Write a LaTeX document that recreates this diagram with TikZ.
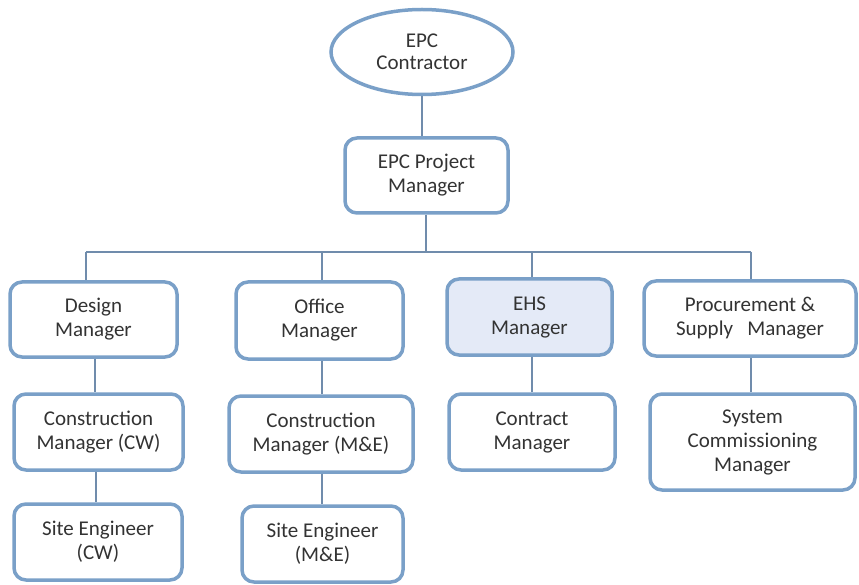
\documentclass[tikz,border=0pt]{standalone}
\usepackage{fontspec}
\setmainfont{Carlito}
\usetikzlibrary{shapes.geometric}
\definecolor{boxline}{RGB}{122,160,200}
\definecolor{conn}{RGB}{112,140,172}
\definecolor{ehsfill}{RGB}{228,234,247}
\tikzset{
  x=1pt,y=-1pt,
  box/.style={draw=boxline, line width=3.5pt, rounded corners=12pt, fill=white,
    align=center, inner sep=0pt, font=\fontsize{21}{24}\selectfont, text=black!80},
  oval/.style={ellipse, draw=boxline, line width=3.5pt, fill=white, inner sep=0pt,
    align=center, font=\fontsize{21}{22}\selectfont, text=black!80},
  conline/.style={draw=conn, line width=1.4pt}
}
\begin{document}
\begin{tikzpicture}
\useasboundingbox (0,0) rectangle (859,585);
% bus and drop points
\coordinate (bus) at (426,252);
\coordinate (dD) at (86,252);
\coordinate (dO) at (322,252);
\coordinate (dE) at (532,252);
\coordinate (dP) at (751,252);
% nodes
\node[oval, minimum width=182pt, minimum height=85pt] (epc) at (422,52) {EPC\\Contractor};
\node[box, minimum width=163pt, minimum height=75pt] (pm) at (426.5,175.5) {EPC Project\\Manager};
\node[box, minimum width=167pt, minimum height=75pt] (dm) at (93.5,319.5) {Design\\Manager};
\node[box, minimum width=167pt, minimum height=77pt] (om) at (319.5,320.5) {Office\\Manager};
\node[box, minimum width=165pt, minimum height=76pt, fill=ehsfill] (em) at (529.5,317) {EHS\\Manager};
\node[box, minimum width=212pt, minimum height=75pt] (pr) at (750,318.5) {Procurement \&\\Supply\ \ \ Manager};
\node[box, minimum width=169pt, minimum height=76pt] (ccw) at (98.5,432) {Construction\\Manager (CW)};
\node[box, minimum width=184pt, minimum height=76pt] (cme) at (321,434) {Construction\\Manager (M\&E)};
\node[box, minimum width=166pt, minimum height=76pt] (cm) at (532,432) {Contract\\Manager};
\node[box, minimum width=205pt, minimum height=96pt] (sc) at (752.5,442) {System\\Commissioning\\Manager};
\node[box, minimum width=168pt, minimum height=76pt] (secw) at (98,542) {Site Engineer\\(CW)};
\node[box, minimum width=161pt, minimum height=76pt] (seme) at (322.5,544) {Site Engineer\\(M\&E)};
% connectors
\draw[conline] (epc.south) -- (epc.south |- pm.north);
\draw[conline] (pm.south -| bus) -- (bus);
\draw[conline] (dD) -- (dP);
\draw[conline] (dD) -- (dD |- dm.north);
\draw[conline] (dO) -- (dO |- om.north);
\draw[conline] (dE) -- (dE |- em.north);
\draw[conline] (dP) -- (dP |- pr.north);
\draw[conline] (dm.south -| 95,0) -- (ccw.north -| 95,0);
\draw[conline] (ccw.south -| 96,0) -- (secw.north -| 96,0);
\draw[conline] (om.south -| 322,0) -- (cme.north -| 322,0);
\draw[conline] (cme.south -| 322,0) -- (seme.north -| 322,0);
\draw[conline] (em.south -| 532,0) -- (cm.north -| 532,0);
\draw[conline] (pr.south -| 751,0) -- (sc.north -| 751,0);
\end{tikzpicture}
\end{document}
